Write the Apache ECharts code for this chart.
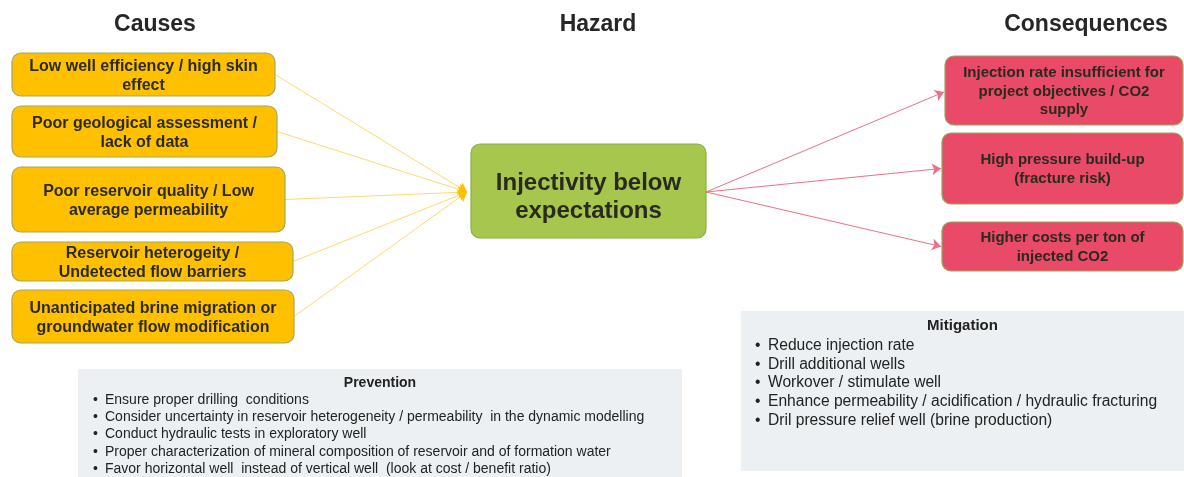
<!DOCTYPE html>
<html>
<head>
<meta charset="utf-8">
<script src="https://cdn.jsdelivr.net/npm/echarts@6/dist/echarts.min.js"></script>
<style>
  html, body { margin: 0; padding: 0; background: #fff; }
  #chart { width: 1184px; height: 477px; }
</style>
</head>
<body>
<div id="chart"></div>
<script>
// texts of the bowtie
const headers = ['Causes', 'Hazard', 'Consequences']
const causes = [
  'Low well efficiency / high skin\neffect',
  'Poor geological assessment /\nlack of data',
  'Poor reservoir quality / Low\naverage permeability',
  'Reservoir heterogeity /\nUndetected flow barriers',
  'Unanticipated brine migration or\ngroundwater flow modification'
]
const hazard = ['Injectivity below\nexpectations']
const consequences = [
  'Injection rate insufficient for\nproject objectives / CO2\nsupply',
  'High pressure build-up\n(fracture risk)',
  'Higher costs per ton of\ninjected CO2'
]
const preventionTitle = 'Prevention'
const preventions = [
  'Ensure proper drilling  conditions',
  'Consider uncertainty in reservoir heterogeneity / permeability  in the dynamic modelling',
  'Conduct hydraulic tests in exploratory well',
  'Proper characterization of mineral composition of reservoir and of formation water',
  'Favor horizontal well  instead of vertical well  (look at cost / benefit ratio)'
]
const mitigationTitle = 'Mitigation'
const mitigations = [
  'Reduce injection rate',
  'Drill additional wells',
  'Workover / stimulate well',
  'Enhance permeability / acidification / hydraulic fracturing',
  'Dril pressure relief well (brine production)'
]

// layout (x0, y0, x1, y1 in the diagram space)
const headerPos = [[155, 25], [598, 25], [1086, 25]]
const causeBoxes = [[12, 53, 275, 96], [12, 106, 277, 157], [12, 167, 285, 232], [12, 242, 293, 281], [12, 290, 294, 343]]
const hazardBoxes = [[471, 144, 706, 238]]
const consequenceBoxes = [[945, 56, 1183, 125], [942, 133, 1183, 204], [942, 222, 1183, 271]]
const preventionBox = [[78, 369, 682, 477]]
const mitigationBox = [[741, 311, 1184, 471]]

const FONT = "'Liberation Sans', Arial, sans-serif"

const hzLeft = [hazardBoxes[0][0] - 4, 192]
const hzRight = [hazardBoxes[0][2], 192]
const causeLinks = causeBoxes.map(b => ({ coords: [[b[2], (b[1] + b[3]) / 2], hzLeft] }))
const causeHeads = causeBoxes.map(b => {
  const s = [b[2], (b[1] + b[3]) / 2]
  const t = 0.96
  return { coords: [[s[0] + (hzLeft[0] - s[0]) * t, s[1] + (hzLeft[1] - s[1]) * t], hzLeft] }
})
const consLinks = consequenceBoxes.map((b, i) => ({ coords: [hzRight, [b[0] - 1, i === 0 ? 92 : (b[1] + b[3]) / 2]] }))

function boxSeries (boxes, texts, fill, border, font, lineHeight, dy) {
  return {
    type: 'custom',
    coordinateSystem: 'cartesian2d',
    silent: true,
    clip: false,
    data: boxes,
    renderItem (params, api) {
      const p0 = api.coord([api.value(0), api.value(1)])
      const p1 = api.coord([api.value(2), api.value(3)])
      const x = p0[0]
      const y = Math.min(p0[1], p1[1])
      const w = p1[0] - p0[0]
      const h = Math.abs(p1[1] - p0[1])
      return {
        type: 'group',
        children: [
          { type: 'rect', shape: { x, y, width: w, height: h, r: 9 }, style: { fill, stroke: border, lineWidth: 1.2 } },
          {
            type: 'text',
            style: {
              text: texts[params.dataIndex], x: x + w / 2, y: y + h / 2 + (dy || 0),
              align: 'center', verticalAlign: 'middle', font, fill: '#2a2a1e', lineHeight
            }
          }
        ]
      }
    }
  }
}

function panelSeries (box, title, items, titleFont, itemFont, titleDy, firstDy, step, bulletDx, textDx) {
  return {
    type: 'custom',
    coordinateSystem: 'cartesian2d',
    silent: true,
    clip: false,
    data: box,
    renderItem (params, api) {
      const p0 = api.coord([api.value(0), api.value(1)])
      const p1 = api.coord([api.value(2), api.value(3)])
      const x = p0[0]
      const y = Math.min(p0[1], p1[1])
      const w = p1[0] - p0[0]
      const h = Math.abs(p1[1] - p0[1])
      const children = [
        { type: 'rect', shape: { x, y, width: w, height: h }, style: { fill: '#ecf0f2' } },
        { type: 'text', style: { text: title, x: x + w / 2, y: y + titleDy, align: 'center', verticalAlign: 'middle', font: titleFont, fill: '#222' } }
      ]
      items.forEach((t, i) => {
        const ty = y + firstDy + i * step
        children.push({ type: 'text', style: { text: '•', x: x + bulletDx, y: ty, align: 'left', verticalAlign: 'middle', font: itemFont, fill: '#222' } })
        children.push({ type: 'text', style: { text: t, x: x + textDx, y: ty, align: 'left', verticalAlign: 'middle', font: itemFont, fill: '#222' } })
      })
      return { type: 'group', children }
    }
  }
}

const chart = echarts.init(document.getElementById('chart'))
chart.setOption({
  animation: false,
  backgroundColor: '#fff',
  grid: { left: 0, right: 0, top: 0, bottom: 0 },
  xAxis: { type: 'value', min: 0, max: 1184, show: false },
  yAxis: { type: 'value', min: 0, max: 477, inverse: true, show: false },
  series: [
    {
      type: 'lines',
      coordinateSystem: 'cartesian2d',
      silent: true,
      symbol: ['none', 'none'],
      lineStyle: { color: '#ffd96e', width: 1, opacity: 1, curveness: 0 },
      data: causeLinks
    },
    {
      type: 'lines',
      coordinateSystem: 'cartesian2d',
      silent: true,
      symbol: ['none', 'arrow'],
      symbolSize: 9,
      lineStyle: { color: '#ffc000', width: 1, opacity: 1 },
      data: causeHeads
    },
    {
      type: 'lines',
      coordinateSystem: 'cartesian2d',
      silent: true,
      symbol: ['none', 'arrow'],
      symbolSize: 9,
      lineStyle: { color: '#ec7088', width: 1, opacity: 1 },
      data: consLinks
    },
    boxSeries(causeBoxes, causes, '#ffc000', '#a3a85a', 'bold 16px ' + FONT, 18.5, 1.5),
    boxSeries(hazardBoxes, hazard, '#a6c64e', '#8fae44', 'bold 24px ' + FONT, 28, 6),
    boxSeries(consequenceBoxes, consequences, '#e84a68', '#9aa45a', 'bold 15px ' + FONT, 18.5, 1),
    panelSeries(preventionBox, preventionTitle, preventions, 'bold 14px ' + FONT, '14px ' + FONT, 14, 31, 17.3, 15, 27),
    panelSeries(mitigationBox, mitigationTitle, mitigations, 'bold 15px ' + FONT, '15.6px ' + FONT, 15, 34.5, 18.8, 14, 27),
    {
      type: 'custom',
      coordinateSystem: 'cartesian2d',
      silent: true,
      clip: false,
      data: headerPos,
      renderItem (params, api) {
        const p = api.coord([api.value(0), api.value(1)])
        return {
          type: 'text',
          style: { text: headers[params.dataIndex], x: p[0], y: p[1], align: 'center', verticalAlign: 'middle', font: 'bold 23px ' + FONT, fill: '#262626' }
        }
      }
    }
  ]
})
</script>
</body>
</html>
